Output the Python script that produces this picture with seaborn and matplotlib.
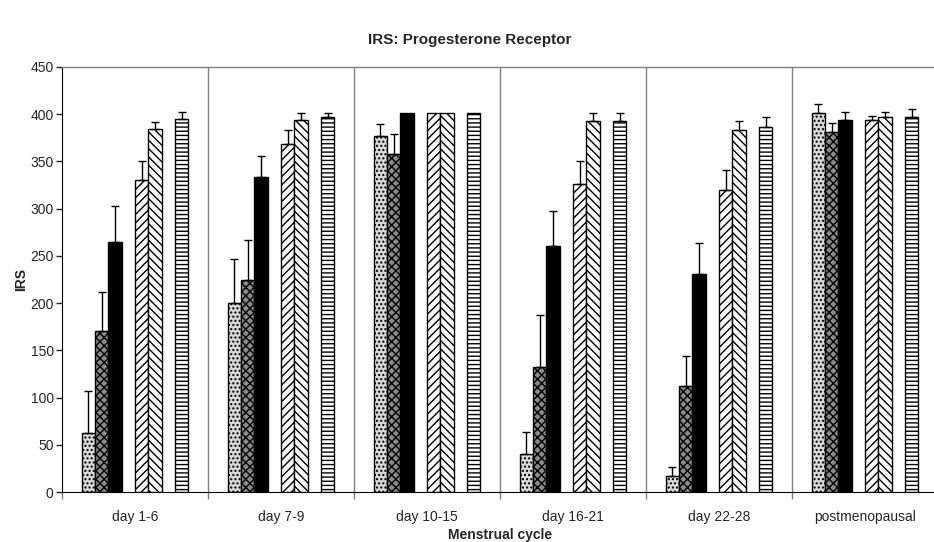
import numpy as np
import pandas as pd
import seaborn as sns
import matplotlib.pyplot as plt

# Dados (IRS médio e erro padrão superior)
phases = ['day 1-6', 'day 7-9', 'day 10-15', 'day 16-21', 'day 22-28', 'postmenopausal']
series = ['s1', 's2', 's3', 'gap1', 's4', 's5', 'gap2', 's6']

s1 = [63, 200, 377, 40, 17, 401]
s2 = [171, 224, 358, 132, 112, 381]
s3 = [265, 334, 401, 261, 231, 394]
s4 = [330, 368, 401, 326, 320, 394]
s5 = [384, 394, 401, 393, 383, 397]
s6 = [395, 397, 401, 393, 386, 397]

s1_err = [44, 47, 13, 24, 9, 10]
s2_err = [41, 43, 21, 55, 32, 10]
s3_err = [38, 22, 0, 37, 33, 8]
s4_err = [21, 15, 0, 24, 21, 4]
s5_err = [8, 7, 0, 8, 10, 5]
s6_err = [7, 4, 0, 8, 11, 9]

values = {'s1': s1, 's2': s2, 's3': s3, 's4': s4, 's5': s5, 's6': s6}
errors = {'s1': s1_err, 's2': s2_err, 's3': s3_err, 's4': s4_err, 's5': s5_err, 's6': s6_err}

rows = []
for name in values:
    for ph, v, e in zip(phases, values[name], errors[name]):
        rows.append({'phase': ph, 'series': name, 'IRS': v, 'err': e})
df = pd.DataFrame(rows)

sns.set_style('white')
plt.rcParams['font.family'] = ['Liberation Sans', 'DejaVu Sans']
plt.rcParams['hatch.linewidth'] = 1.0

faces = {'s1': '#d8d8d8', 's2': '#8a8a8a', 's3': '#000000', 'gap1': 'white',
         's4': 'white', 's5': 'white', 'gap2': 'white', 's6': 'white'}
hatches = {'s1': '....', 's2': 'xxxx', 's3': '', 's4': '////', 's5': '\\\\\\\\', 's6': '----'}

fig = plt.figure(figsize=(9.34, 5.42), dpi=100)
ax = fig.add_axes([62 / 934, 1 - 492 / 542, 876 / 934, 425 / 542])

sns.barplot(data=df, x='phase', y='IRS', hue='series', order=phases, hue_order=series,
            palette=faces, width=0.73, gap=0, errorbar=None, legend=False,
            edgecolor='black', linewidth=1, saturation=1, ax=ax)

# o seaborn cria um container por nível de hue (os gaps ficam vazios)
bar_conts = list(ax.containers)
for cont, name in zip(bar_conts, series):
    if name not in values:
        continue
    for bar, e in zip(cont, errors[name]):
        bar.set_hatch(hatches[name])
        if e > 0:
            xc = bar.get_x() + bar.get_width() / 2
            top = bar.get_height()
            ax.errorbar(xc, top, yerr=[[0], [e]], fmt='none', ecolor='black',
                        elinewidth=1, capsize=3, capthick=1, zorder=1)

ax.set_ylim(0, 450)
ax.set_xlim(-0.5, len(phases) - 0.5)
ax.set_yticks(range(0, 451, 50))
ax.tick_params(axis='y', length=4, width=1, direction='out', labelsize=10, left=True, pad=2)

# separadores entre grupos
bounds = np.arange(-0.5, len(phases), 1.0)
ax.set_xticks(bounds)
ax.set_xticklabels([])
ax.tick_params(axis='x', which='major', length=5, width=1, color='#808080', bottom=True)
ax.set_xticks(range(len(phases)), minor=True)
ax.set_xticklabels(phases, minor=True, fontsize=10)
ax.tick_params(axis='x', which='minor', length=0, pad=13)
for b in bounds[1:-1]:
    ax.axvline(b, color='#808080', linewidth=1, zorder=0)

for side in ['top', 'right']:
    ax.spines[side].set_color('#808080')
    ax.spines[side].set_linewidth(1)
ax.spines['left'].set_color('black')
ax.spines['bottom'].set_color('black')

ax.set_xlabel('Menstrual cycle', fontsize=10, fontweight='bold', labelpad=3)
ax.set_ylabel('IRS', fontsize=10, fontweight='bold')
ax.yaxis.set_label_coords(-34 / 876, 0.5)
fig.text(0.503, 1 - 40 / 542, 'IRS: Progesterone Receptor', ha='center', va='center',
         fontsize=11, fontweight='bold')

fig.savefig('out.png', dpi=100)
